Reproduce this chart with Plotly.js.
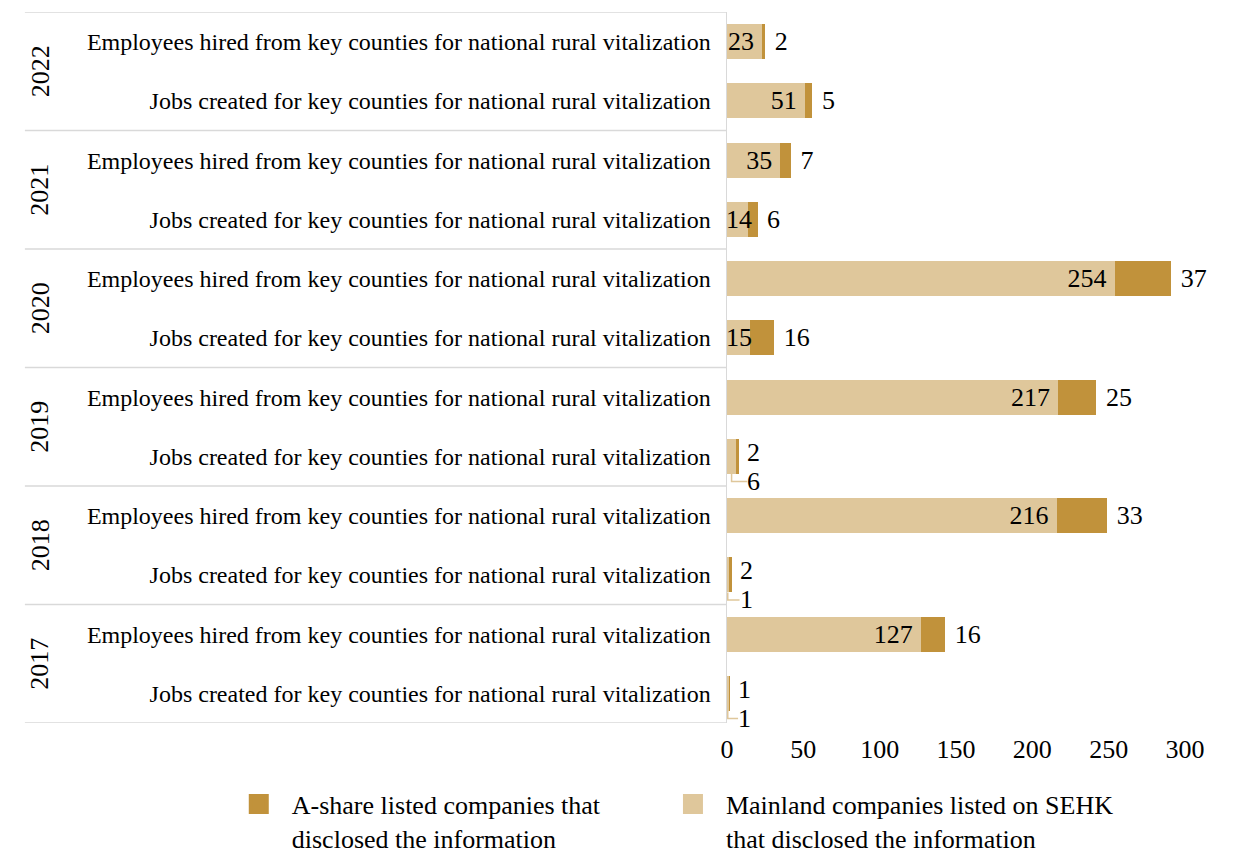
<!DOCTYPE html>
<html>
<head>
<meta charset="utf-8">
<script src="https://cdn.plot.ly/plotly-3.0.1.min.js"></script>
<style>
  html, body { margin: 0; padding: 0; background: #ffffff; }
  #chart { width: 1233px; height: 857px; }
</style>
</head>
<body>
<div id="chart"></div>
<script>
// Rows, top to bottom: each year has two metrics
const years = ['2022', '2022', '2021', '2021', '2020', '2020', '2019', '2019', '2018', '2018', '2017', '2017'];
const EMP = 'Employees hired from key counties for national rural vitalization';
const JOBS = 'Jobs created for key counties for national rural vitalization';
const metrics = [EMP, JOBS, EMP, JOBS, EMP, JOBS, EMP, JOBS, EMP, JOBS, EMP, JOBS];

// Mainland companies listed on SEHK (light) and A-share listed companies (dark)
const mainlandSEHK = [23, 51, 35, 14, 254, 15, 217, 6, 216, 1, 127, 1];
const aShare = [2, 5, 7, 6, 37, 16, 25, 2, 33, 2, 16, 1];

const seriesNames = [
  'A-share listed companies that<br>disclosed the information',
  'Mainland companies listed on SEHK<br>that disclosed the information'
];
const xTicks = [0, 50, 100, 150, 200, 250, 300];

const LIGHT = '#dfc79b';
const DARK = '#c1923b';
const GRID = '#d9d9d9';
const FONT = 'Liberation Serif, Times New Roman, serif';
const NUM_SIZE = 26;
const TINY = 10;    // light values below this: label under the bar with a leader
const NARROW = 20;  // light values below this: label starts at the axis

const keys = years.map((y, i) => y + ' ' + metrics[i]);

const lightText = mainlandSEHK.map(v => (v >= NARROW ? v + '\u2009' : ''));
const darkText = aShare.map((v, i) => (mainlandSEHK[i] >= TINY ? ' ' + v : ''));

// pad legend labels so the text sits a little further from the swatch
const padLegend = s => s.split('<br>').map(line => '\u2002' + line).join('<br>');

const numFont = { family: FONT, size: NUM_SIZE, color: '#000' };

const traces = [
  {
    type: 'bar', orientation: 'h', name: seriesNames[1], showlegend: false,
    y: keys, x: mainlandSEHK,
    marker: { color: LIGHT },
    text: lightText, textposition: 'inside', insidetextanchor: 'end', textangle: 0,
    textfont: numFont, hoverinfo: 'skip', cliponaxis: false
  },
  {
    type: 'bar', orientation: 'h', name: seriesNames[0], showlegend: false,
    y: keys, x: aShare,
    marker: { color: DARK },
    text: darkText, textposition: 'outside', textangle: 0,
    textfont: numFont, hoverinfo: 'skip', cliponaxis: false
  },
  // legend entries
  {
    type: 'scatter', mode: 'markers', name: padLegend(seriesNames[0]), x: [null], y: [null],
    marker: { symbol: 'square', size: 16, color: DARK, line: { color: DARK, width: 4 } },
    hoverinfo: 'skip', legend: 'legend'
  },
  {
    type: 'scatter', mode: 'markers', name: padLegend(seriesNames[1]), x: [null], y: [null],
    marker: { symbol: 'square', size: 16, color: LIGHT, line: { color: LIGHT, width: 4 } },
    hoverinfo: 'skip', legend: 'legend2'
  }
];

const shapes = [];
const annotations = [];

// group dividers across the label column
const leftEdge = -1.533;
const boundaries = [-0.5];
years.forEach((y, i) => {
  if (i === years.length - 1 || years[i + 1] !== y) boundaries.push(i + 0.5);
});
boundaries.forEach(b => {
  shapes.push({
    type: 'line', xref: 'paper', yref: 'y', x0: leftEdge, x1: 0, y0: b, y1: b,
    line: { color: GRID, width: 1.5 }, layer: 'below'
  });
});

// rotated year labels centred on each group
const uniqueYears = [...new Set(years)];
uniqueYears.forEach(y => {
  const idx = years.map((v, i) => (v === y ? i : -1)).filter(i => i >= 0);
  const mid = idx.reduce((a, b) => a + b, 0) / idx.length;
  annotations.push({
    xref: 'paper', yref: 'y', x: -1.5, y: mid, text: y, showarrow: false,
    textangle: -90, xanchor: 'center', yanchor: 'middle', font: numFont
  });
});

const pxPerUnit = 458 / 300;
mainlandSEHK.forEach((v, i) => {
  const total = v + aShare[i];
  if (v >= TINY && v < NARROW) {
    // narrow light segment: value written from the axis outward
    annotations.push({
      xref: 'x', yref: 'y', x: 0, y: i, text: String(v), showarrow: false,
      xanchor: 'left', yanchor: 'middle', xshift: -3, font: numFont
    });
  } else if (v < TINY) {
    // tiny bars: A-share value beside the bar, light value beneath with an elbow leader
    annotations.push({
      xref: 'x', yref: 'y', x: total, y: i, text: String(aShare[i]), showarrow: false,
      xanchor: 'left', yanchor: 'middle', xshift: 6, yshift: 4, font: numFont
    });
    annotations.push({
      xref: 'x', yref: 'y', x: total, y: i, text: String(v), showarrow: false,
      xanchor: 'left', yanchor: 'middle', xshift: 6, yshift: -25, font: numFont
    });
    const endX = (total - v / 2) * pxPerUnit + 8;
    shapes.push({
      type: 'path', xref: 'x', yref: 'y', xsizemode: 'pixel', ysizemode: 'pixel',
      xanchor: v / 2, yanchor: i,
      path: `M0,-17.5 L0,-25 L${endX.toFixed(1)},-25`,
      line: { color: LIGHT, width: 1.5 }
    });
  }
});

const legendBase = {
  orientation: 'h', xanchor: 'left', y: -0.081, yanchor: 'top', valign: 'top',
  font: { family: FONT, size: 26, color: '#000' },
  itemclick: false, itemdoubleclick: false
};

const layout = {
  width: 1233, height: 857,
  margin: { l: 727, r: 48, t: 12, b: 134, pad: 0, autoexpand: false },
  paper_bgcolor: '#ffffff', plot_bgcolor: '#ffffff',
  barmode: 'stack', bargap: 0.41,
  font: { family: FONT, color: '#000' },
  showlegend: true,
  legend: Object.assign({}, legendBase, { x: -1.066 }),
  legend2: Object.assign({}, legendBase, { x: -0.118 }),
  xaxis: {
    range: [0, 300], tickvals: xTicks, ticktext: xTicks.map(String),
    showgrid: false, zeroline: false, showline: false, ticks: '',
    ticklabelstandoff: 8, tickfont: numFont, fixedrange: true
  },
  yaxis: {
    type: 'category', categoryorder: 'array', categoryarray: keys,
    range: [keys.length - 0.5, -0.5],
    tickvals: keys, ticktext: metrics,
    showgrid: false, zeroline: false, showline: true, linecolor: GRID, linewidth: 1.5,
    ticks: '', ticklabelstandoff: 10,
    tickfont: { family: FONT, size: 24, color: '#000' }, fixedrange: true
  },
  shapes: shapes,
  annotations: annotations,
  uniformtext: { minsize: NUM_SIZE, mode: 'show' }
};

Plotly.newPlot('chart', traces, layout, { displayModeBar: false, staticPlot: true });
</script>
</body>
</html>
